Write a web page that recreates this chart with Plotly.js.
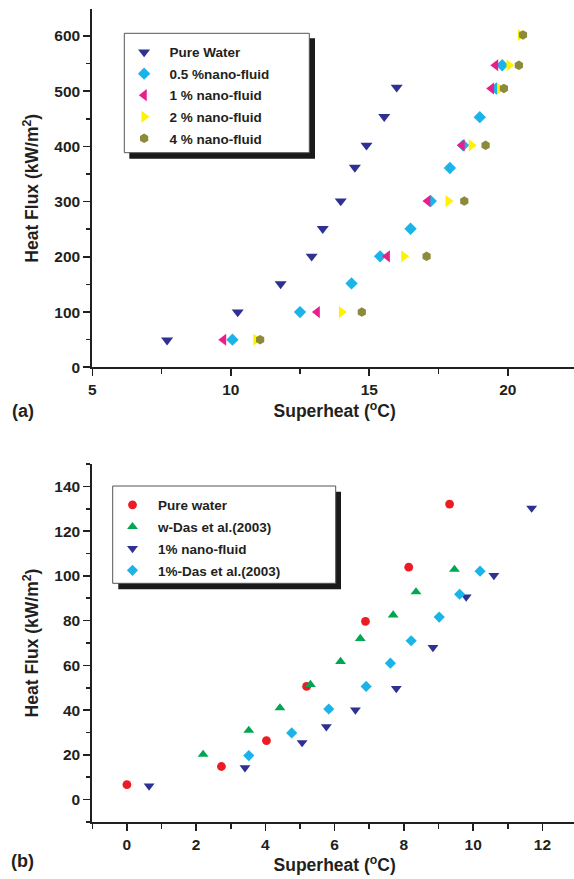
<!DOCTYPE html>
<html><head><meta charset="utf-8">
<script src="https://cdn.plot.ly/plotly-3.0.1.min.js"></script>
<style>html,body{margin:0;padding:0;overflow:hidden;background:#fff}#chart{width:577px;height:879px}</style>
</head><body><div id="chart"></div>
<script>
// ---------- Panel (a) data ----------
const aPureX = [7.7, 10.25, 11.8, 12.92, 13.32, 13.97, 14.48, 14.9, 15.54, 15.99];
const aPureY = [49, 100, 151, 201, 251, 301, 362, 402, 454, 507];
const a05X = [10.06, 12.5, 14.36, 15.39, 16.49, 17.22, 17.91, 18.39, 18.99, 19.59, 19.8];
const a05Y = [50, 100, 152, 201, 251, 301, 361, 402, 453, 505, 547];
const a1X = [9.74, 13.12, 15.65, 17.11, 18.35, 19.41, 19.56];
const a1Y = [50, 100, 201, 301, 402, 505, 547];
const a2X = [10.91, 14.0, 16.25, 17.85, 18.69, 19.71, 20.05, 20.46];
const a2Y = [50, 100, 201, 301, 402, 505, 547, 602];
const a4X = [11.06, 14.73, 17.07, 18.43, 19.2, 19.86, 20.4, 20.55];
const a4Y = [50, 100, 201, 301, 402, 505, 547, 602];
const aNames = ['Pure Water', '0.5 %nano-fluid', '1 % nano-fluid', '2 % nano-fluid', '4 % nano-fluid'];

// ---------- Panel (b) data ----------
const bPureX = [0, 2.73, 4.03, 5.19, 6.89, 8.14, 9.32];
const bPureY = [6.7, 14.8, 26.4, 50.6, 79.7, 103.9, 132.1];
const bDasWX = [2.2, 3.52, 4.42, 5.3, 6.17, 6.74, 7.69, 8.35, 9.46];
const bDasWY = [20.2, 30.9, 41, 51.4, 61.7, 72, 82.5, 92.8, 102.9];
const bNanoX = [0.64, 3.41, 5.06, 5.76, 6.6, 7.78, 8.84, 9.8, 10.6, 11.69];
const bNanoY = [6.1, 14.3, 25.5, 32.6, 40.1, 49.7, 68, 90.6, 100.2, 130.3];
const bDas1X = [3.52, 4.76, 5.83, 6.91, 7.61, 8.21, 9.02, 9.61, 10.2];
const bDas1Y = [19.7, 29.8, 40.5, 50.6, 61, 71, 81.6, 91.8, 102.1];
const bNames = ['Pure water', 'w-Das et al.(2003)', '1% nano-fluid', '1%-Das et al.(2003)'];

const FONT = 'Liberation Sans, Arial, Helvetica, sans-serif';
const INK = '#231f20';
const W = 577, H = 879;
const px = v => v / W;
const py = v => 1 - v / H;

function pt(x, y, name, sym, color, size, xa, ya, lg, grp) {
  return {type: 'scatter', mode: 'markers', x: x, y: y, name: name,
    xaxis: xa, yaxis: ya, legend: lg, legendgroup: grp,
    marker: {symbol: sym, color: color, size: size, line: {width: 0}}};
}

const data = [
  pt(aPureX, aPureY, aNames[0], 'triangle-down', '#2e3192', 10.5, 'x', 'y', 'legend', 'a0'),
  pt(a05X, a05Y, aNames[1], 'diamond', '#1ab4e8', 9.5, 'x', 'y', 'legend', 'a1'),
  pt(a1X, a1Y, aNames[2], 'triangle-left', '#e91e8c', 10.5, 'x', 'y', 'legend', 'a2'),
  pt(a2X, a2Y, aNames[3], 'triangle-right', '#fff200', 10.5, 'x', 'y', 'legend', 'a3'),
  pt(a4X, a4Y, aNames[4], 'hexagon', '#8c8a3b', 9.5, 'x', 'y', 'legend', 'a4'),
  pt(bPureX, bPureY, bNames[0], 'circle', '#ed1c24', 8.8, 'x2', 'y2', 'legend2', 'b0'),
  pt(bDasWX, bDasWY, bNames[1], 'triangle-up', '#00a651', 9.5, 'x2', 'y2', 'legend2', 'b1'),
  pt(bNanoX, bNanoY, bNames[2], 'triangle-down', '#2e3192', 9.5, 'x2', 'y2', 'legend2', 'b2'),
  pt(bDas1X, bDas1Y, bNames[3], 'diamond', '#1ab4e8', 8.6, 'x2', 'y2', 'legend2', 'b3')
];

const tickFont = {family: FONT, size: 15.5, weight: 'bold', color: INK};
const titleFont = {family: FONT, size: 17.5, weight: 'bold', color: INK};
const legFont = {family: FONT, size: 13.5, weight: 'bold', color: INK};

function mainAxis(domain, range, dtick, minorDtick, anchor, title, standoff) {
  return {domain: domain, range: range, dtick: dtick, tick0: 0, anchor: anchor, automargin: false,
    showgrid: false, zeroline: false, showline: true, linecolor: INK, linewidth: 2,
    ticks: 'outside', ticklen: 7, tickwidth: 1.6, tickcolor: INK, tickfont: tickFont,
    minor: {dtick: minorDtick, ticks: 'outside', ticklen: 4.5, tickwidth: 1.6, tickcolor: INK, showgrid: false},
    title: {text: title, font: titleFont, standoff: standoff}, fixedrange: true};
}
function mirrorAxis(domain, range, dtick, minorDtick, anchor, overlay, side) {
  return {domain: domain, range: range, dtick: dtick, tick0: 0, anchor: anchor, overlaying: overlay, side: side,
    automargin: false,
    showgrid: false, zeroline: false, showline: true, linecolor: INK, linewidth: 2,
    ticks: 'inside', ticklen: 7, tickwidth: 1.6, tickcolor: INK, showticklabels: false,
    minor: {dtick: minorDtick, ticks: 'inside', ticklen: 4.5, tickwidth: 1.6, tickcolor: INK, showgrid: false},
    fixedrange: true};
}

const xDom = [px(92.3), 1];
const yDomA = [py(367.3), py(9.3)];
const yDomB = [py(822), py(464)];
const xTitle = 'Superheat (<sup>o</sup>C)';
const yTitle = 'Heat Flux (kW/m<sup>2</sup>)';

const layout = {
  width: W, height: H, margin: {l: 0, r: 0, t: 0, b: 0},
  paper_bgcolor: '#fff', plot_bgcolor: 'rgba(0,0,0,0)',
  font: {family: FONT, color: INK},
  showlegend: true,
  xaxis: mainAxis(xDom, [5, 22.5], 5, 2.5, 'y', xTitle, 8),
  yaxis: mainAxis(yDomA, [0, 648.4], 100, 50, 'x', yTitle, 11),
  xaxis2: mainAxis(xDom, [-1, 13], 2, 1, 'y2', xTitle, 6),
  yaxis2: mainAxis(yDomB, [-10, 150], 20, 10, 'x2', yTitle, 11),
  xaxis3: mirrorAxis(xDom, [5, 22.5], 5, 2.5, 'y', 'x', 'top'),
  yaxis3: mirrorAxis(yDomA, [0, 648.4], 100, 50, 'x', 'y', 'right'),
  xaxis4: mirrorAxis(xDom, [-1, 13], 2, 1, 'y2', 'x2', 'top'),
  yaxis4: mirrorAxis(yDomB, [-10, 150], 20, 10, 'x2', 'y2', 'right'),
  legend: {x: px(118.6), y: py(36.8), xanchor: 'left', yanchor: 'top', bgcolor: 'rgba(0,0,0,0)',
    borderwidth: 0, font: legFont, itemwidth: 41, tracegroupgap: 1, itemclick: false, itemdoubleclick: false},
  legend2: {x: px(107), y: py(489.5), xanchor: 'left', yanchor: 'top', bgcolor: 'rgba(0,0,0,0)',
    borderwidth: 0, font: legFont, itemwidth: 41, tracegroupgap: 1.3, itemclick: false, itemdoubleclick: false},
  shapes: [
    {type: 'rect', xref: 'paper', yref: 'paper', x0: px(129.3), x1: px(315), y0: py(158.7), y1: py(38.3),
      fillcolor: '#1a1a1a', line: {width: 0}, layer: 'above'},
    {type: 'rect', xref: 'paper', yref: 'paper', x0: px(124.3), x1: px(309.3), y0: py(152.7), y1: py(33.3),
      fillcolor: '#ffffff', line: {width: 1, color: '#555'}, layer: 'above'},
    {type: 'rect', xref: 'paper', yref: 'paper', x0: px(118.3), x1: px(341), y0: py(589.3), y1: py(491.7),
      fillcolor: '#1a1a1a', line: {width: 0}, layer: 'above'},
    {type: 'rect', xref: 'paper', yref: 'paper', x0: px(112.7), x1: px(335.7), y0: py(583.3), y1: py(486),
      fillcolor: '#ffffff', line: {width: 1, color: '#555'}, layer: 'above'}
  ],
  annotations: [
    {text: '(a)', xref: 'paper', yref: 'paper', x: px(23), y: py(411), xanchor: 'center', yanchor: 'middle',
      showarrow: false, font: {family: FONT, size: 18, weight: 'bold', color: INK}},
    {text: '(b)', xref: 'paper', yref: 'paper', x: px(23), y: py(861), xanchor: 'center', yanchor: 'middle',
      showarrow: false, font: {family: FONT, size: 18, weight: 'bold', color: INK}}
  ]
};

Plotly.newPlot('chart', data, layout, {displayModeBar: false, staticPlot: true});
</script>
</body></html>
